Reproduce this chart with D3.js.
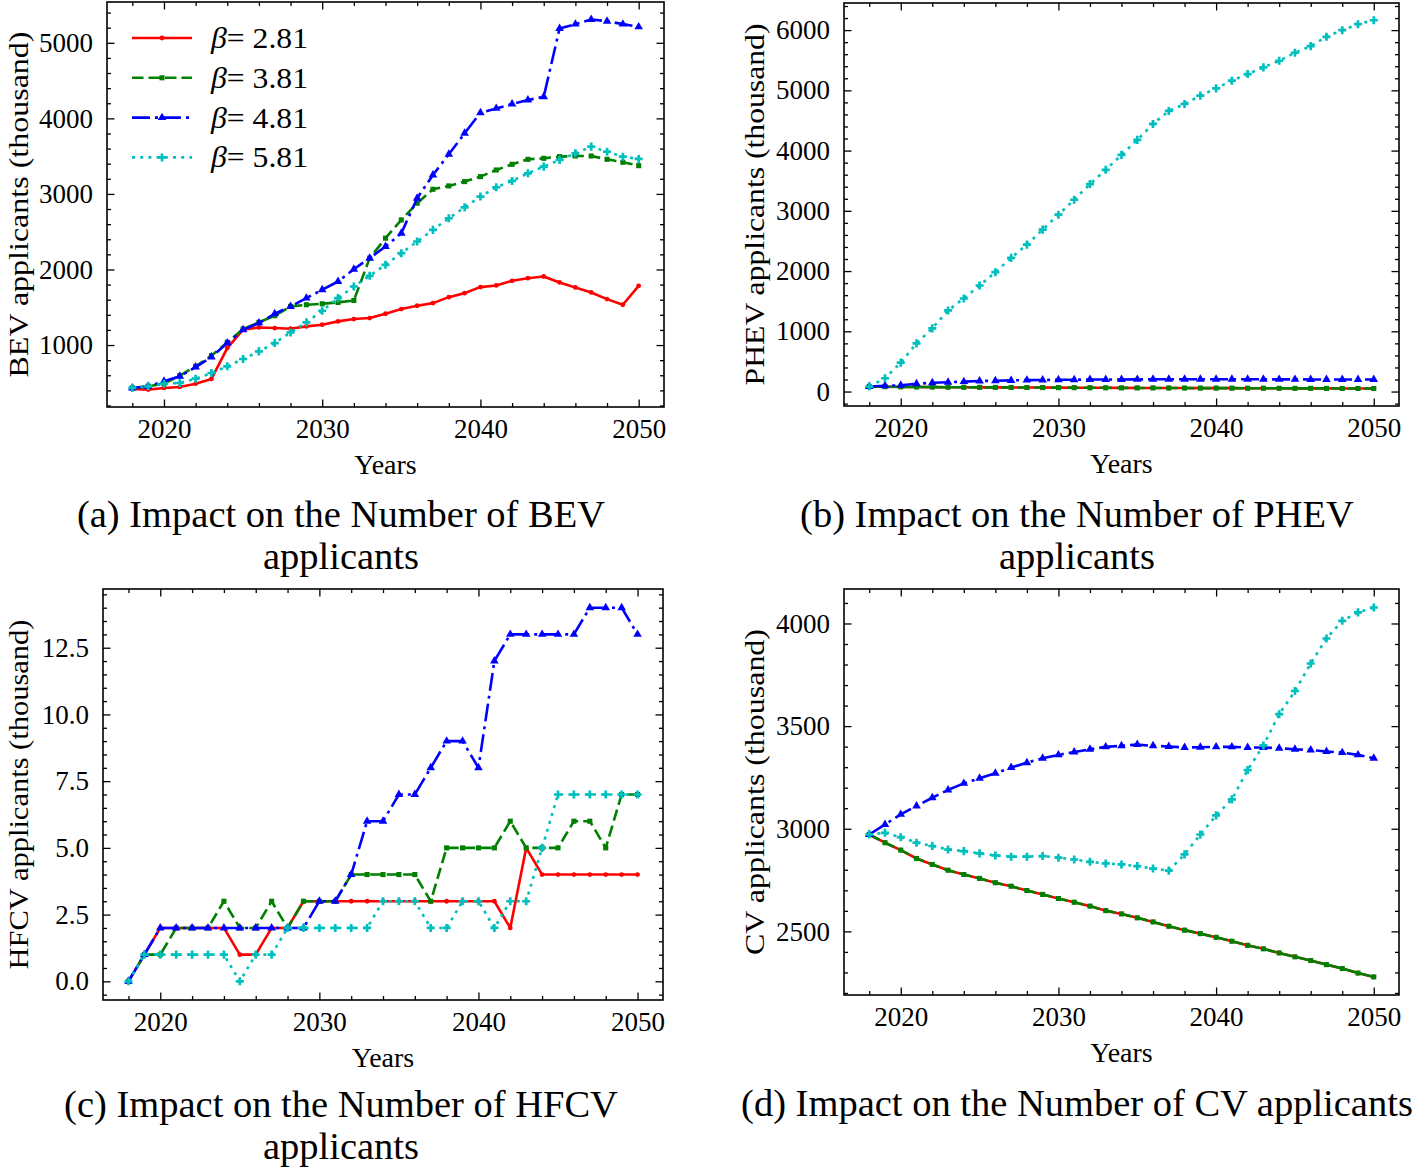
<!DOCTYPE html>
<html><head><meta charset="utf-8">
<script src="https://cdn.jsdelivr.net/npm/d3@7"></script>
<style>
body{margin:0;background:#fff}
svg{display:block}
text{font-family:"Liberation Serif","Times New Roman",serif;fill:#000}
</style>
</head><body>
<svg id="chart" width="1417" height="1172"></svg>
<script>
// ---------------- data ----------------
const years = [2018,2019,2020,2021,2022,2023,2024,2025,2026,2027,2028,2029,2030,2031,2032,2033,2034,2035,2036,2037,2038,2039,2040,2041,2042,2043,2044,2045,2046,2047,2048,2049,2050];
const betaLabels = ["2.81","3.81","4.81","5.81"];

const bevB281 = [419,410,432,445,489,551,960,1203,1233,1225,1216,1247,1269,1313,1344,1357,1414,1476,1520,1555,1634,1687,1767,1789,1850,1885,1907,1828,1762,1696,1608,1533,1784];
const bevB381 = [432,454,489,595,718,859,1035,1211,1300,1388,1511,1533,1546,1564,1590,2150,2414,2656,2877,3062,3106,3163,3229,3317,3392,3458,3471,3493,3502,3502,3458,3419,3374];
const bevB481 = [432,454,520,586,709,841,1026,1203,1291,1414,1511,1621,1731,1841,2004,2150,2304,2480,2943,3251,3524,3802,4075,4132,4189,4242,4286,5189,5247,5308,5286,5247,5211];
const bevB581 = [432,454,489,498,555,630,718,815,916,1026,1167,1300,1454,1621,1775,1916,2062,2216,2370,2524,2678,2823,2965,3088,3172,3273,3361,3449,3537,3626,3559,3493,3463];

const phevB281 = [83,80,78,76,74,72,71,70,69,68,67,66,65,64,63,62,61,60,60,59,58,57,57,56,55,55,54,53,53,52,51,51,50];
const phevB381 = [83,80,78,76,74,72,71,70,69,68,67,66,65,64,63,62,61,60,60,59,58,57,57,56,55,55,54,53,53,52,51,51,50];
const phevB481 = [83,95,105,130,145,155,165,175,180,185,190,192,195,197,199,200,201,202,203,204,204,204,204,204,203,203,202,202,201,201,200,200,200];
const phevB581 = [83,221,480,800,1049,1347,1545,1760,1981,2219,2439,2688,2936,3184,3444,3681,3929,4178,4443,4658,4774,4912,5033,5160,5270,5381,5491,5624,5734,5889,5999,6098,6164];

const hfcvB281 = [0,1,2,2,2,2,2,1,1,2,2,3,3,3,3,3,3,3,3,3,3,3,3,3,2,5,4,4,4,4,4,4,4];
const hfcvB381 = [0,1,1,2,2,2,3,2,2,3,2,3,3,3,4,4,4,4,4,3,5,5,5,5,6,5,5,5,6,6,5,7,7];
const hfcvB481 = [0,1,2,2,2,2,2,2,2,2,2,2,3,3,4,6,6,7,7,8,9,9,8,12,13,13,13,13,13,14,14,14,13];
const hfcvB581 = [0,1,1,1,1,1,1,0,1,1,2,2,2,2,2,2,3,3,3,2,2,3,3,2,3,3,5,7,7,7,7,7,7];

const cvB281 = [2972,2932,2896,2855,2826,2798,2777,2758,2737,2720,2699,2680,2660,2642,2623,2601,2585,2566,2546,2525,2506,2489,2471,2452,2432,2415,2395,2376,2358,2338,2319,2297,2278];
const cvB381 = [2972,2932,2896,2855,2826,2798,2777,2758,2737,2720,2699,2680,2660,2642,2623,2601,2585,2566,2546,2525,2506,2489,2471,2452,2432,2415,2395,2376,2358,2338,2319,2297,2278];
const cvB481 = [2972,3021,3070,3111,3151,3189,3221,3246,3270,3298,3322,3343,3360,3374,3387,3399,3404,3410,3404,3401,3396,3397,3399,3399,3396,3396,3392,3387,3384,3376,3371,3360,3343];
const cvB581 = [2972,2980,2959,2932,2916,2899,2891,2880,2870,2864,2864,2867,2859,2850,2839,2831,2826,2818,2806,2796,2875,2972,3065,3143,3286,3406,3558,3671,3805,3927,4013,4054,4078];

const xTickYears = [2020,2030,2040,2050];
const bevTicks = [1000,2000,3000,4000,5000];
const phevTicks = [0,1000,2000,3000,4000,5000,6000];
const hfcvTicks = [0,2.5,5,7.5,10,12.5];
const cvTicks = [2500,3000,3500,4000];

// ---------------- styles / layout ----------------
const styles = [
  {color:"#ff0000", dash:null,          symbol:d3.symbolCircle,   size:18},
  {color:"#008000", dash:"11.5,5",      symbol:d3.symbolSquare,   size:26},
  {color:"#0000ff", dash:"18,5,3,5",    symbol:d3.symbolTriangle, size:32},
  {color:"#00bfbf", dash:"3,5.2",       symbol:d3.symbolCross,    size:36}
];

const panels = [
  {box:[107,2,664,407], yDomain:[180,5540], yTicks:bevTicks, minorStep:200, fmt:d3.format("d"),
   ylabel:"BEV applicants (thousand)", ylabelLen:346, ylabelX:28, series:[bevB281,bevB381,bevB481,bevB581],
   caption:["(a) Impact on the Number of BEV","applicants"], capX:341, capY:527, legend:true},
  {box:[844,3,1399,406], yDomain:[-240,6450], yTicks:phevTicks, minorStep:200, fmt:d3.format("d"),
   ylabel:"PHEV applicants (thousand)", ylabelLen:362, ylabelX:764, series:[phevB281,phevB381,phevB481,phevB581],
   caption:["(b) Impact on the Number of PHEV","applicants"], capX:1077, capY:527},
  {box:[103,589,663,1000], yDomain:[-0.7,14.7], yTicks:hfcvTicks, minorStep:0.5, fmt:d3.format(".1f"),
   ylabel:"HFCV applicants (thousand)", ylabelLen:350, ylabelX:28, series:[hfcvB281,hfcvB381,hfcvB481,hfcvB581],
   caption:["(c) Impact on the Number of HFCV","applicants"], capX:341, capY:1117},
  {box:[844,589,1399,995], yDomain:[2190,4168], yTicks:cvTicks, minorStep:100, fmt:d3.format("d"),
   ylabel:"CV applicants (thousand)", ylabelLen:326, ylabelX:764, series:[cvB281,cvB381,cvB481,cvB581],
   caption:["(d) Impact on the Number of CV applicants"], capX:1077, capY:1116}
];

const svg = d3.select("#chart");
const TICK_FONT = 27, LABEL_FONT = 28, CAP_FONT = 38.5;

panels.forEach(p => {
  const [x0,y0,x1,y1] = p.box;
  const x = d3.scaleLinear().domain([2016.4, 2051.6]).range([x0, x1]);
  const y = d3.scaleLinear().domain(p.yDomain).range([y1, y0]);
  const g = svg.append("g");

  const xMinor = d3.range(2018, 2051, 2).filter(v => xTickYears.indexOf(v) < 0);
  const yMinor = d3.range(Math.ceil(p.yDomain[0]/p.minorStep)*p.minorStep, p.yDomain[1], p.minorStep)
      .filter(v => !p.yTicks.some(t => Math.abs(t - v) < 1e-6));

  function styleAxis(sel){
    sel.select(".domain").remove();
    sel.selectAll("line").attr("stroke","#000").attr("stroke-width",1.3);
    sel.selectAll("text").style("font-size", TICK_FONT + "px").attr("fill","#000");
  }
  // major ticks with labels
  g.append("g").attr("transform",`translate(0,${y1})`)
    .call(d3.axisBottom(x).tickValues(xTickYears).tickFormat(d3.format("d")).tickSize(-7.5).tickPadding(12)).call(styleAxis);
  g.append("g").attr("transform",`translate(${x0},0)`)
    .call(d3.axisLeft(y).tickValues(p.yTicks).tickFormat(p.fmt).tickSize(-7.5).tickPadding(14)).call(styleAxis);
  // mirrored major ticks
  g.append("g").attr("transform",`translate(0,${y0})`)
    .call(d3.axisTop(x).tickValues(xTickYears).tickFormat("").tickSize(-7.5)).call(styleAxis);
  g.append("g").attr("transform",`translate(${x1},0)`)
    .call(d3.axisRight(y).tickValues(p.yTicks).tickFormat("").tickSize(-7.5)).call(styleAxis);
  // minor ticks
  g.append("g").attr("transform",`translate(0,${y1})`)
    .call(d3.axisBottom(x).tickValues(xMinor).tickFormat("").tickSize(-4)).call(styleAxis);
  g.append("g").attr("transform",`translate(0,${y0})`)
    .call(d3.axisTop(x).tickValues(xMinor).tickFormat("").tickSize(-4)).call(styleAxis);
  g.append("g").attr("transform",`translate(${x0},0)`)
    .call(d3.axisLeft(y).tickValues(yMinor).tickFormat("").tickSize(-4)).call(styleAxis);
  g.append("g").attr("transform",`translate(${x1},0)`)
    .call(d3.axisRight(y).tickValues(yMinor).tickFormat("").tickSize(-4)).call(styleAxis);

  // series
  const line = d3.line().x((d,i) => x(years[i])).y(d => y(d));
  p.series.forEach((vals, si) => {
    const st = styles[si];
    g.append("path").datum(vals).attr("d", line)
      .attr("fill","none").attr("stroke",st.color).attr("stroke-width",2.6)
      .attr("stroke-linejoin","round")
      .attr("stroke-dasharray", st.dash);
    g.append("g").selectAll("path").data(vals).join("path")
      .attr("d", d3.symbol().type(st.symbol).size(st.size))
      .attr("transform",(d,i) => `translate(${x(years[i])},${y(d)})`)
      .attr("fill", st.color);
  });

  // frame
  g.append("rect").attr("x",x0).attr("y",y0).attr("width",x1-x0).attr("height",y1-y0)
    .attr("fill","none").attr("stroke","#000").attr("stroke-width",1.6);

  // axis labels
  g.append("text").attr("transform",`translate(${p.ylabelX},${(y0+y1)/2}) rotate(-90)`)
    .attr("text-anchor","middle").style("font-size", LABEL_FONT+"px")
    .attr("textLength", p.ylabelLen).attr("lengthAdjust","spacingAndGlyphs").text(p.ylabel);
  g.append("text").attr("x",(x0+x1)/2).attr("y",y1+67).attr("text-anchor","middle")
    .style("font-size","28px").text("Years");

  // caption
  p.caption.forEach((c, ci) => {
    svg.append("text").attr("x",p.capX).attr("y",p.capY + ci*42).attr("text-anchor","middle")
      .style("font-size", CAP_FONT+"px").text(c);
  });

  // legend
  if (p.legend) {
    betaLabels.forEach((b, i) => {
      const ly = y0 + 36 + i*39.8;
      const st = styles[i];
      g.append("line").attr("x1",x0+25).attr("x2",x0+85).attr("y1",ly).attr("y2",ly)
        .attr("stroke",st.color).attr("stroke-width",2.6).attr("stroke-dasharray",st.dash);
      g.append("path").attr("d",d3.symbol().type(st.symbol).size(st.size))
        .attr("transform",`translate(${x0+55},${ly})`).attr("fill",st.color);
      const t = g.append("text").attr("x",x0+104).attr("y",ly+10).style("font-size","29px")
        .attr("textLength", 97).attr("lengthAdjust","spacingAndGlyphs");
      t.append("tspan").style("font-style","italic").text("β");
      t.append("tspan").text("= " + b);
    });
  }
});
</script>
</body></html>
